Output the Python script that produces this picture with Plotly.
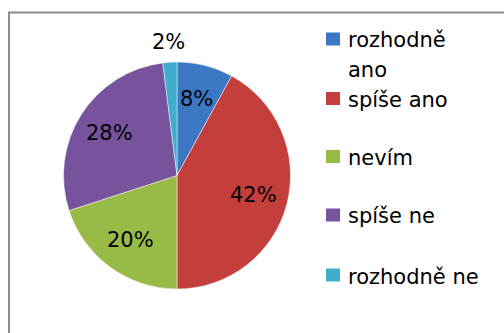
import numpy as np
import plotly.graph_objects as go

categories = ["rozhodně ano", "spíše ano", "nevím", "spíše ne", "rozhodně ne"]
legend_lines = [["rozhodně", "ano"], ["spíše ano"], ["nevím"], ["spíše ne"], ["rozhodně ne"]]
values = [8, 42, 20, 28, 2]
colors = ["#3C77C4", "#C43E3B", "#98BA46", "#76539C", "#41ADCC"]
label_outside = [False, False, False, False, True]

W, H = 504, 333
FONT = "'DejaVu Sans', sans-serif"

# pie placement (pixels)
pie_x0, pie_x1, pie_y0, pie_y1 = 63, 291, 62, 289
cx, cy = (pie_x0 + pie_x1) / 2, (pie_y0 + pie_y1) / 2
R = min(pie_x1 - pie_x0, pie_y1 - pie_y0) / 2

fig = go.Figure()
fig.add_trace(go.Pie(
    labels=categories,
    values=values,
    sort=False,
    direction="clockwise",
    rotation=0,
    marker=dict(colors=colors, line=dict(color="rgba(255,255,255,0.6)", width=0.8)),
    textinfo="none",
    domain=dict(x=[pie_x0 / W, pie_x1 / W], y=[1 - pie_y1 / H, 1 - pie_y0 / H]),
    showlegend=False,
    hoverinfo="label+percent",
))

# percentage labels placed at each slice's mid angle
vals = np.array(values, dtype=float)
cum = np.cumsum(vals) - vals / 2
mid = cum / vals.sum() * 2 * np.pi  # clockwise from 12 o'clock
for v, a, out in zip(values, mid, label_outside):
    r = R * (1.18 if out else 0.70)
    px = cx + r * np.sin(a)
    py = cy - r * np.cos(a)
    fig.add_annotation(xref="paper", yref="paper", x=px / W, y=1 - py / H,
                       text=f"{v}%", showarrow=False, xanchor="center", yanchor="middle",
                       font=dict(family=FONT, size=21, color="#000000"))

# chart frame
fig.add_shape(type="rect", xref="paper", yref="paper",
              x0=9 / W, x1=1.02, y0=-0.02, y1=1 - 12.5 / H,
              line=dict(color="#8C8C8C", width=2), fillcolor="rgba(0,0,0,0)")

# legend: square swatch + label for each category
row_y = [39, 98.5, 156.5, 215, 275]
line_gap = 29
for lines, col, ly in zip(legend_lines, colors, row_y):
    fig.add_shape(type="rect", xref="paper", yref="paper",
                  x0=326 / W, x1=340 / W, y0=1 - (ly + 6.5) / H, y1=1 - (ly - 6.5) / H,
                  fillcolor=col, line=dict(width=0))
    for i, txt in enumerate(lines):
        ty = ly + 1.5 + i * line_gap
        fig.add_annotation(xref="paper", yref="paper", x=346 / W, y=1 - ty / H,
                           text=txt, showarrow=False, xanchor="left", yanchor="middle",
                           font=dict(family=FONT, size=21, color="#000000"))

fig.update_layout(
    width=W, height=H,
    margin=dict(l=0, r=0, t=0, b=0),
    paper_bgcolor="white",
    plot_bgcolor="white",
)

fig.write_html("out.html")
